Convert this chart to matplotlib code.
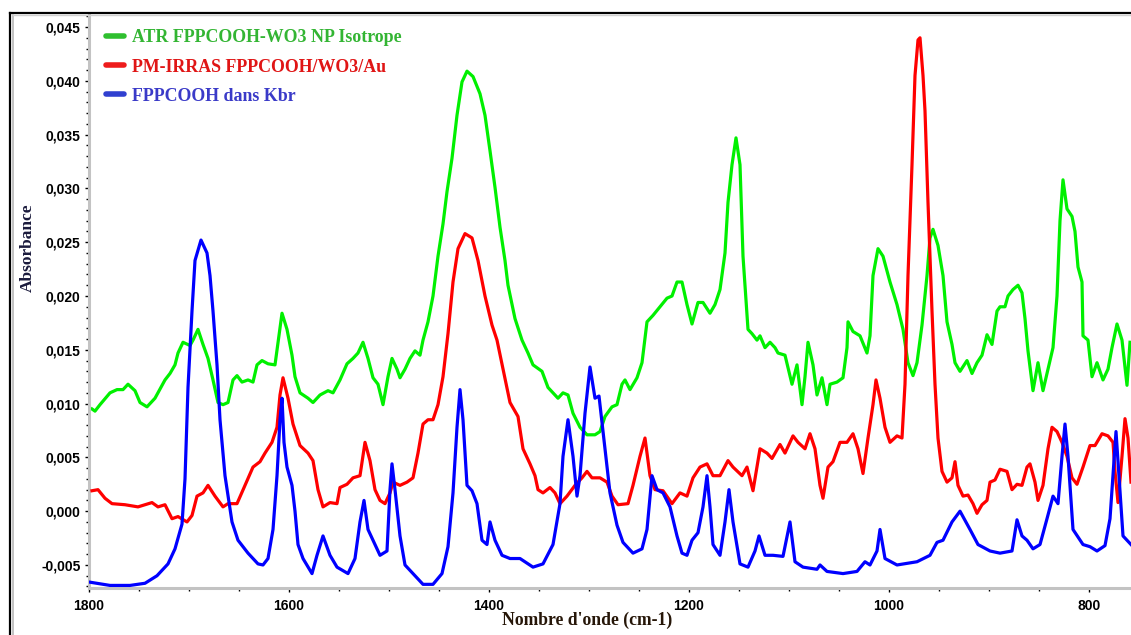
import matplotlib
matplotlib.use('Agg')
from matplotlib import pyplot as plt
from matplotlib.lines import Line2D
from matplotlib.ticker import MultipleLocator, FuncFormatter

# ATR FPPCOOH-WO3 NP Isotrope
wn_atr = [1797, 1794, 1789, 1779, 1772, 1766, 1761, 1754, 1749, 1742, 1734, 1724, 1719, 1714, 1711,
          1706, 1699, 1696, 1691, 1686, 1681, 1676, 1671, 1666, 1661, 1656, 1652, 1647, 1641, 1636,
          1632, 1627, 1621, 1614, 1607, 1602, 1597, 1594, 1589, 1581, 1576, 1569, 1561, 1556, 1549,
          1542, 1536, 1531, 1526, 1521, 1516, 1511, 1506, 1501, 1497, 1492, 1489, 1484, 1479, 1474,
          1469, 1466, 1461, 1456, 1451, 1446, 1442, 1437, 1432, 1427, 1422, 1416, 1409, 1404, 1399,
          1394, 1389, 1384, 1381, 1374, 1367, 1361, 1356, 1347, 1341, 1336, 1331, 1326, 1321, 1316,
          1309, 1302, 1294, 1289, 1284, 1277, 1272, 1267, 1264, 1259, 1252, 1247, 1242, 1236, 1229,
          1222, 1217, 1212, 1207, 1202, 1197, 1191, 1186, 1179, 1174, 1169, 1164, 1161, 1157, 1153,
          1149, 1146, 1141, 1137, 1132, 1129, 1124, 1119, 1114, 1111, 1104, 1097, 1092, 1087, 1084,
          1081, 1076, 1072, 1067, 1062, 1059, 1052, 1046, 1042, 1041, 1036, 1029, 1022, 1019, 1016,
          1011, 1006, 999, 992, 986, 981, 976, 972, 967, 962, 959, 956, 951, 946, 942,
          937, 934, 929, 922, 917, 912, 907, 902, 897, 892, 889, 884, 881, 876, 871,
          867, 864, 861, 856, 851, 846, 841, 836, 832, 829, 826, 822, 817, 814, 811,
          807, 806, 801, 797, 792, 786, 781, 777, 772, 767, 762, 759]
abs_atr = [0.0095, 0.0093, 0.0099, 0.0110, 0.0113, 0.0113, 0.0118, 0.0112, 0.0101, 0.0097, 0.0105,
           0.0122, 0.0128, 0.0136, 0.0147, 0.0157, 0.0154, 0.0159, 0.0169, 0.0155, 0.0142, 0.0122,
           0.0101, 0.0099, 0.0101, 0.0122, 0.0126, 0.0120, 0.0122, 0.0120, 0.0136, 0.0140, 0.0137,
           0.0136, 0.0184, 0.0169, 0.0145, 0.0125, 0.0110, 0.0105, 0.0101, 0.0108, 0.0112, 0.0110,
           0.0122, 0.0137, 0.0142, 0.0147, 0.0157, 0.0142, 0.0124, 0.0118, 0.0099, 0.0125, 0.0142,
           0.0132, 0.0124, 0.0132, 0.0142, 0.0149, 0.0145, 0.0159, 0.0176, 0.0200, 0.0237, 0.0267,
           0.0297, 0.0328, 0.0368, 0.0399, 0.0409, 0.0404, 0.0388, 0.0368, 0.0335, 0.0301, 0.0264,
           0.0233, 0.0210, 0.0179, 0.0159, 0.0147, 0.0136, 0.0130, 0.0115, 0.0110, 0.0105, 0.0110,
           0.0108, 0.0091, 0.0078, 0.0071, 0.0071, 0.0074, 0.0088, 0.0097, 0.0099, 0.0118, 0.0122,
           0.0113, 0.0124, 0.0138, 0.0176, 0.0182, 0.0190, 0.0198, 0.0200, 0.0213, 0.0213, 0.0192,
           0.0174, 0.0194, 0.0194, 0.0184, 0.0192, 0.0206, 0.0240, 0.0287, 0.0322, 0.0347, 0.0322,
           0.0237, 0.0169, 0.0165, 0.0159, 0.0163, 0.0152, 0.0157, 0.0152, 0.0147, 0.0145, 0.0118,
           0.0136, 0.0099, 0.0125, 0.0157, 0.0136, 0.0108, 0.0124, 0.0099, 0.0118, 0.0120, 0.0124,
           0.0152, 0.0176, 0.0167, 0.0163, 0.0147, 0.0163, 0.0219, 0.0244, 0.0237, 0.0213, 0.0192,
           0.0169, 0.0138, 0.0126, 0.0138, 0.0173, 0.0219, 0.0254, 0.0262, 0.0247, 0.0219, 0.0176,
           0.0155, 0.0138, 0.0130, 0.0140, 0.0128, 0.0138, 0.0145, 0.0164, 0.0155, 0.0186, 0.0190,
           0.0190, 0.0200, 0.0206, 0.0210, 0.0203, 0.0179, 0.0149, 0.0112, 0.0138, 0.0112, 0.0132,
           0.0152, 0.0200, 0.0270, 0.0308, 0.0281, 0.0274, 0.0260, 0.0227, 0.0213, 0.0163, 0.0159,
           0.0125, 0.0138, 0.0122, 0.0132, 0.0152, 0.0174, 0.0159, 0.0117, 0.0157]

# PM-IRRAS FPPCOOH/WO3/Au
wn_irras = [1797, 1791, 1784, 1777, 1764, 1751, 1737, 1731, 1724, 1717, 1711, 1702, 1697, 1692, 1686,
            1681, 1674, 1666, 1661, 1652, 1644, 1636, 1629, 1624, 1617, 1612, 1609, 1606, 1601, 1596,
            1589, 1581, 1576, 1571, 1566, 1559, 1552, 1549, 1542, 1536, 1529, 1524, 1519, 1514, 1509,
            1504, 1499, 1496, 1489, 1482, 1476, 1471, 1466, 1461, 1456, 1451, 1446, 1441, 1436, 1431,
            1424, 1417, 1411, 1404, 1397, 1392, 1386, 1379, 1371, 1366, 1359, 1354, 1351, 1346, 1339,
            1334, 1329, 1322, 1314, 1307, 1302, 1297, 1289, 1282, 1277, 1271, 1261, 1256, 1249, 1244,
            1239, 1234, 1226, 1217, 1209, 1202, 1196, 1189, 1182, 1176, 1169, 1161, 1156, 1147, 1142,
            1136, 1129, 1122, 1117, 1109, 1104, 1096, 1091, 1084, 1079, 1074, 1069, 1066, 1061, 1056,
            1049, 1042, 1036, 1031, 1026, 1021, 1016, 1013, 1009, 1004, 999, 992, 987, 984, 981,
            977, 974, 971, 969, 966, 964, 961, 957, 954, 951, 947, 942, 937, 934, 931,
            926, 921, 916, 912, 907, 902, 899, 894, 889, 882, 877, 872, 867, 862, 859,
            854, 851, 846, 841, 837, 832, 827, 822, 817, 812, 806, 799, 794, 787, 781,
            776, 774, 771, 767, 764, 761, 758]
abs_irras = [0.0019, 0.0020, 0.0012, 0.0007, 0.0006, 0.0004, 0.0008, 0.0004, 0.0006, -0.0007, -0.0005,
             -0.0010, -0.0004, 0.0014, 0.0017, 0.0024, 0.0014, 0.0004, 0.0007, 0.0007, 0.0024, 0.0041,
             0.0046, 0.0054, 0.0064, 0.0078, 0.0108, 0.0124, 0.0105, 0.0081, 0.0061, 0.0054, 0.0047,
             0.0020, 0.0004, 0.0008, 0.0007, 0.0022, 0.0025, 0.0031, 0.0033, 0.0064, 0.0047, 0.0020,
             0.0010, 0.0007, 0.0017, 0.0027, 0.0024, 0.0027, 0.0031, 0.0054, 0.0081, 0.0085, 0.0085,
             0.0099, 0.0125, 0.0165, 0.0213, 0.0244, 0.0258, 0.0254, 0.0233, 0.0200, 0.0173, 0.0159,
             0.0132, 0.0101, 0.0088, 0.0058, 0.0044, 0.0033, 0.0020, 0.0017, 0.0022, 0.0017, 0.0007,
             0.0014, 0.0024, 0.0031, 0.0037, 0.0031, 0.0031, 0.0027, 0.0014, 0.0006, 0.0007, 0.0024,
             0.0051, 0.0068, 0.0033, 0.0020, 0.0019, 0.0007, 0.0017, 0.0014, 0.0031, 0.0041, 0.0044,
             0.0033, 0.0033, 0.0047, 0.0041, 0.0033, 0.0041, 0.0019, 0.0058, 0.0054, 0.0049, 0.0062,
             0.0054, 0.0070, 0.0064, 0.0058, 0.0072, 0.0058, 0.0024, 0.0012, 0.0041, 0.0046, 0.0064,
             0.0064, 0.0072, 0.0058, 0.0035, 0.0068, 0.0099, 0.0122, 0.0105, 0.0078, 0.0064, 0.0070,
             0.0068, 0.0118, 0.0219, 0.0322, 0.0405, 0.0438, 0.0440, 0.0405, 0.0372, 0.0287, 0.0186,
             0.0118, 0.0068, 0.0037, 0.0027, 0.0031, 0.0046, 0.0024, 0.0014, 0.0015, 0.0007, -0.0002,
             0.0006, 0.0010, 0.0027, 0.0029, 0.0039, 0.0037, 0.0020, 0.0025, 0.0024, 0.0041, 0.0044,
             0.0027, 0.0010, 0.0024, 0.0058, 0.0078, 0.0074, 0.0064, 0.0051, 0.0031, 0.0025, 0.0041,
             0.0061, 0.0061, 0.0072, 0.0070, 0.0064, 0.0037, 0.0008, 0.0051, 0.0086, 0.0068, 0.0027]

# FPPCOOH dans Kbr
wn_kbr = [1799, 1779, 1759, 1744, 1732, 1721, 1714, 1707, 1704, 1701, 1697, 1694, 1688, 1682, 1679,
          1676, 1672, 1669, 1664, 1657, 1651, 1641, 1631, 1626, 1621, 1616, 1612, 1609, 1607, 1605,
          1602, 1597, 1594, 1591, 1586, 1577, 1572, 1566, 1559, 1552, 1541, 1534, 1529, 1525, 1521,
          1514, 1509, 1502, 1499, 1497, 1494, 1489, 1484, 1476, 1466, 1456, 1447, 1441, 1436, 1432,
          1429, 1426, 1422, 1417, 1412, 1407, 1402, 1399, 1394, 1387, 1379, 1369, 1356, 1346, 1336,
          1329, 1326, 1321, 1316, 1312, 1309, 1304, 1299, 1294, 1290, 1286, 1279, 1272, 1266, 1256,
          1247, 1242, 1237, 1232, 1226, 1219, 1212, 1207, 1202, 1197, 1191, 1186, 1182, 1179, 1176,
          1169, 1164, 1160, 1156, 1149, 1141, 1134, 1130, 1124, 1116, 1106, 1099, 1094, 1086, 1072,
          1069, 1062, 1046, 1032, 1024, 1019, 1012, 1009, 1004, 992, 972, 959, 952, 946, 937,
          929, 919, 911, 899, 889, 877, 872, 867, 862, 856, 849, 842, 836, 831, 827,
          824, 821, 816, 806, 799, 792, 784, 779, 776, 773, 770, 766, 758]
abs_kbr = [-0.0066, -0.0069, -0.0069, -0.0067, -0.0060, -0.0049, -0.0035, -0.0012, 0.0030, 0.0115,
           0.0186, 0.0233, 0.0252, 0.0240, 0.0219, 0.0186, 0.0136, 0.0085, 0.0033, -0.0010, -0.0027,
           -0.0039, -0.0049, -0.0050, -0.0044, -0.0017, 0.0033, 0.0085, 0.0105, 0.0064, 0.0041,
           0.0024, 0.0000, -0.0031, -0.0044, -0.0058, -0.0041, -0.0023, -0.0041, -0.0052, -0.0058,
           -0.0044, -0.0010, 0.0010, -0.0017, -0.0031, -0.0041, -0.0037, 0.0020, 0.0044, 0.0020,
           -0.0023, -0.0050, -0.0058, -0.0068, -0.0068, -0.0058, -0.0033, 0.0017, 0.0078, 0.0113,
           0.0085, 0.0024, 0.0019, 0.0007, -0.0027, -0.0031, -0.0010, -0.0027, -0.0041, -0.0044,
           -0.0044, -0.0052, -0.0049, -0.0031, 0.0007, 0.0051, 0.0085, 0.0051, 0.0014, 0.0033,
           0.0091, 0.0134, 0.0105, 0.0107, 0.0074, 0.0017, -0.0013, -0.0029, -0.0039, -0.0035,
           -0.0017, 0.0033, 0.0020, 0.0017, 0.0004, -0.0023, -0.0039, -0.0041, -0.0027, -0.0020,
           0.0004, 0.0033, 0.0004, -0.0031, -0.0041, -0.0010, 0.0020, -0.0010, -0.0049, -0.0052,
           -0.0037, -0.0023, -0.0041, -0.0041, -0.0042, -0.0010, -0.0047, -0.0052, -0.0054, -0.0050,
           -0.0056, -0.0058, -0.0056, -0.0047, -0.0050, -0.0037, -0.0017, -0.0044, -0.0050, -0.0047,
           -0.0041, -0.0029, -0.0027, -0.0010, 0.0000, -0.0017, -0.0031, -0.0037, -0.0039, -0.0037,
           -0.0008, -0.0023, -0.0027, -0.0035, -0.0031, -0.0007, 0.0014, 0.0007, 0.0051, 0.0081,
           0.0051, -0.0017, -0.0031, -0.0033, -0.0037, -0.0032, -0.0007, 0.0033, 0.0074, 0.0033,
           -0.0023, -0.0031]

labels = ['ATR FPPCOOH-WO3 NP Isotrope', 'PM-IRRAS FPPCOOH/WO3/Au', 'FPPCOOH dans Kbr']
line_colors = ['#00f000', '#ff0000', '#0000ff']
key_colors = ['#2fbf2f', '#ee1c1c', '#3040d0']
text_colors = ['#33b533', '#e01515', '#3a3ac8']

fig = plt.figure(figsize=(11.31, 6.35), dpi=100)
ax = fig.add_axes([89 / 1131, 47 / 635, 1 - 89 / 1131, 573 / 635])

ax.plot(wn_atr, abs_atr, color=line_colors[0], lw=2.3, zorder=2)
ax.plot(wn_irras, abs_irras, color=line_colors[1], lw=2.3, zorder=3)
ax.plot(wn_kbr, abs_kbr, color=line_colors[2], lw=2.3, zorder=4)

ax.set_xlim(1800, 758)
ax.set_ylim(-0.00714, 0.04612)

# axes: grey left / bottom, nothing on top / right
for side in ['top', 'right']:
    ax.spines[side].set_visible(False)
for side in ['left', 'bottom']:
    ax.spines[side].set_color('#c3c3c3')
    ax.spines[side].set_linewidth(2.2)

ax.xaxis.set_major_locator(MultipleLocator(200))
ax.xaxis.set_minor_locator(MultipleLocator(50))
ax.yaxis.set_major_locator(MultipleLocator(0.005))
ax.yaxis.set_minor_locator(MultipleLocator(0.001))
ax.yaxis.set_major_formatter(FuncFormatter(lambda v, p: f"{v:.3f}".replace('.', ',')))
ax.xaxis.set_major_formatter(FuncFormatter(lambda v, p: f"{v:.0f}"))
ax.tick_params(which='major', direction='out', length=3, width=1, color='black')
ax.tick_params(which='minor', direction='out', length=2, width=1, color='black')
ax.tick_params(axis='y', which='major', pad=3)
ax.tick_params(axis='x', which='major', pad=5)
for lab in ax.get_xticklabels() + ax.get_yticklabels():
    lab.set_fontfamily('Liberation Sans')
    lab.set_fontweight('bold')
    lab.set_fontsize(10)

# legende
handles = [Line2D([], [], color=c, lw=4, solid_capstyle='round') for c in key_colors]
leg = ax.legend(handles, labels, loc='upper left', bbox_to_anchor=(0.0165, 0.975),
                frameon=False, handlelength=1.0, handletextpad=0.45, labelspacing=0.68,
                borderpad=0, borderaxespad=0,
                prop={'family': 'Liberation Serif', 'weight': 'bold', 'size': 12.9})
for t, c in zip(leg.get_texts(), text_colors):
    t.set_color(c)

fig.text(28 / 1131, 1 - 248 / 635, 'Absorbance', rotation=90, ha='center', va='center',
         family='Liberation Serif', weight='bold', size=12.5, color='#1a1a3c')
fig.text(587 / 1131, 1 - 620 / 635, "Nombre d'onde (cm-1)", ha='center', va='center',
         family='Liberation Serif', weight='bold', size=12.7, color='#261608')

# cadre de la fenetre
fig.add_artist(Line2D([9.5 / 1131, 9.5 / 1131], [0, 1 - 12.5 / 635], transform=fig.transFigure,
                      color='black', lw=1.6))
fig.add_artist(Line2D([9.5 / 1131, 1], [1 - 12.5 / 635, 1 - 12.5 / 635], transform=fig.transFigure,
                      color='black', lw=1.6))
fig.add_artist(Line2D([12.5 / 1131, 12.5 / 1131], [0, 1 - 15 / 635], transform=fig.transFigure,
                      color='#b8b8b8', lw=1.2))
fig.add_artist(Line2D([12.5 / 1131, 1], [1 - 15 / 635, 1 - 15 / 635], transform=fig.transFigure,
                      color='#d0d0d0', lw=1.0))

fig.savefig('out.png', dpi=100)
